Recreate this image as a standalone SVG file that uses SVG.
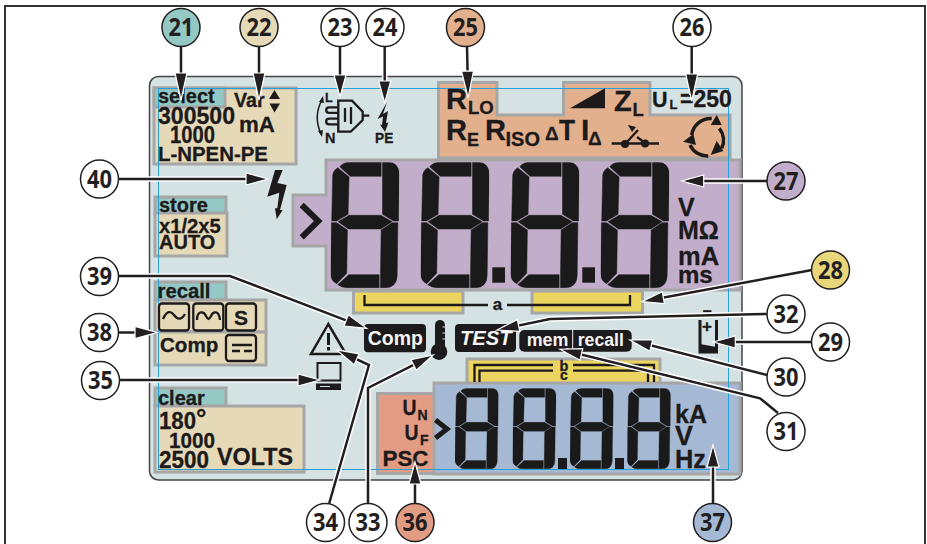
<svg xmlns="http://www.w3.org/2000/svg" width="927" height="544" viewBox="0 0 927 544">
<style>
text{font-family:"Liberation Sans",Arial,sans-serif;font-weight:700;fill:#1c1a1a;stroke:#1c1a1a;stroke-width:.3}
text.lbl{font-family:"Open Sans","Liberation Sans",sans-serif;font-size:25px;text-anchor:middle;fill:#231f20;stroke:none}
text.wt{fill:#f4f4f4;stroke:none}
.c{stroke:#231f20;stroke-width:1.5;fill:#fff}
.reg{stroke:#a6a6a6;stroke-width:3;stroke-linejoin:miter}
.tl{fill:#94c8c4}.tn{fill:#e6d9b8}.pe{fill:#e3b08e}.pu{fill:#c2aecb}.ye{fill:#ebd55f}.bl{fill:#a5b8d4}.sa{fill:#e29c83}
.halo{fill:none;stroke:#fff;stroke-width:5.5}
.ln{fill:none;stroke:#231f20;stroke-width:2.5;stroke-linejoin:miter}
.k{fill:none;stroke:#1c1a1a;stroke-width:2.3}
.blk{fill:#1c1a1a}
</style>
<defs>
<marker id="h" viewBox="0 0 22 12" refX="16" refY="6" markerWidth="22" markerHeight="12" markerUnits="userSpaceOnUse" orient="auto" overflow="visible"><path d="M0,0L22,6L0,12Z" fill="#231f20" stroke="#fff" stroke-width="1.2"/></marker>
<marker id="hl" viewBox="0 0 27 12" refX="21" refY="6" markerWidth="27" markerHeight="12" markerUnits="userSpaceOnUse" orient="auto" overflow="visible"><path d="M0,0L27,6L0,12Z" fill="#231f20" stroke="#fff" stroke-width="1.2"/></marker>
<symbol id="dig" viewBox="122 37 205 378" preserveAspectRatio="none">
<path fill="#1a1a1a" stroke="#1a1a1a" stroke-width="1.5" d="M149,50Q160,37 180,37H273V79H180ZM277,37H292Q327,37 327,75L325,213H310L277,193ZM143,53L177,81L174,193L140,213H125L128,75Q130,61 143,53ZM144,215L177,196H272L306,215L272,237H175ZM124,218H140L172,240L170,370L140,401Q122,393 122,370ZM143,404L176,374H267V413H170Q155,413 143,404ZM271,413V374L273,240L306,218H323L321,375Q320,413 285,413Z"/>
</symbol>
</defs>
<path d="M5,544V6H925V544" fill="none" stroke="#333" stroke-width="2"/>
<rect id="panel" x="149.5" y="76.5" width="592.5" height="403.5" rx="9" fill="#d5e2e4" stroke="#444" stroke-width="1.5"/>

<g id="region-select">
<rect class="reg tn" x="154" y="88" width="142" height="76"/>
<rect class="reg tl" x="154" y="88" width="71" height="19"/>
</g>
<g id="region-store">
<rect class="reg tl" x="155" y="197" width="71" height="17"/>
<rect class="reg tn" x="155" y="213" width="72" height="43"/>
</g>
<g id="region-recall">
<rect class="reg tl" x="155" y="282" width="71" height="18"/>
<rect class="reg tn" x="155" y="300" width="111" height="32"/>
<rect class="reg tn" x="155" y="332" width="111" height="33"/>
</g>
<g id="region-clear">
<rect class="reg tl" x="155" y="388" width="71" height="18"/>
<rect class="reg tn" x="155" y="406" width="149" height="66"/>
</g>
<g id="region-orange"><path class="reg pe" d="M438.5,82.5H497V115H563.5V82.5H650V115H730V158H438.5Z"/></g>
<g id="region-main"><path class="reg pu" d="M326,160H740V290H326V246H293V195H326Z"/></g>
<g id="region-yellow">
<rect class="reg ye" x="353.5" y="291" width="109.5" height="22"/>
<rect class="reg ye" x="532" y="291" width="110.5" height="22"/>
<rect class="reg ye" x="467" y="359" width="193" height="30"/>
</g>
<g id="region-low">
<rect class="reg sa" x="377.5" y="393.5" width="60" height="80"/>
<rect class="reg bl" x="434" y="383" width="306" height="91"/>
</g>
<rect id="guide" x="158.5" y="88.5" width="570" height="381" fill="none" stroke="#2a9fd6" stroke-width="1"/>

<g id="n21-text">
<text x="158" y="103" font-size="20">select</text>
<text x="158" y="124" font-size="23" textLength="77" lengthAdjust="spacingAndGlyphs">300500</text>
<text x="170" y="143" font-size="23" textLength="45" lengthAdjust="spacingAndGlyphs">1000</text>
<text x="158" y="160.5" font-size="20.4">L-NPEN-PE</text>
</g>
<g id="n22-text">
<text x="234" y="107" font-size="19.6">Var</text>
<text x="239" y="132" font-size="22.3">mA</text>
<path class="blk" d="M274.5,90L269,99H280ZM269.5,103.5H280L274.5,112.5Z"/>
</g>
<g id="n23-plug">
<path class="k" d="M338.3,100.7H352L362.7,111.7V120L350.7,131.7H338.3Z"/>
<path class="k" d="M362.7,115.7H369.3M345,108V122M351,107V124"/>
<path class="k" d="M338,107.3H329a2.8,2.8 0 0 0 0,5.6H338M338,118.7H329a2.8,2.8 0 0 0 0,5.6H338"/>
<path d="M322,100Q313,116 321,134" fill="none" stroke="#1c1a1a" stroke-width="1.5"/>
<path class="blk" d="M323,96L319,102L324,103ZM322,137L318,131L323,130Z"/>
<text x="325" y="102" font-size="12.5">L</text>
<text x="325" y="143" font-size="14.5">N</text>
</g>
<g id="n24-pe">
<path class="blk" d="M387,102L377.5,119L383,116.5L382,125L380,124.5L385,132L388.5,122.5L386,123L388,111L383,114Z"/>
<text x="375" y="143" font-size="15" textLength="18.3" lengthAdjust="spacingAndGlyphs">PE</text>
</g>
<g id="n25-text">
<text x="446" y="108.5" font-size="30" textLength="21" lengthAdjust="spacingAndGlyphs">R</text><text x="468" y="114" font-size="18.5">LO</text>
<text x="446" y="140" font-size="30" textLength="21" lengthAdjust="spacingAndGlyphs">R</text><text x="467" y="146" font-size="18">E</text>
<text x="485" y="140" font-size="30" textLength="21" lengthAdjust="spacingAndGlyphs">R</text><text x="505.5" y="146" font-size="20">ISO</text>
<text x="545" y="139.5" font-size="19">Δ</text><text x="559" y="140" font-size="30" textLength="16" lengthAdjust="spacingAndGlyphs">T</text>
<text x="581" y="139.5" font-size="30">I</text><text x="588" y="145" font-size="19">Δ</text>
<path class="blk" d="M570,108.3L605,88.3V108.3Z"/>
<text x="614" y="110.7" font-size="29">Z</text><text x="632.5" y="115.7" font-size="18.5">L</text>
<path class="k" d="M611.7,143.5H659M626,143L638,130M637,137L645,143"/>
<circle class="blk" cx="625" cy="144" r="4"/><circle class="blk" cx="645" cy="143.5" r="4"/>
<path class="blk" d="M628,125L636,127L632,132Z"/>
<path d="M691.7,135A19,19 0 0 1 711.7,118.5M719.3,128.3A19,19 0 0 1 721.7,148.3M708.3,156A19,19 0 0 1 690,145" fill="none" stroke="#1c1a1a" stroke-width="3.5"/>
<path class="blk" d="M716.7,115L721.7,125L710.7,125ZM683,141.7L693.3,134L696,145ZM710.7,155L723.3,151L716.7,140.7Z"/>
</g>
<g id="n26-text">
<text x="652" y="106.7" font-size="21.5">U</text><text x="669.5" y="109" font-size="13">L</text>
<text x="680" y="106.7" font-size="23">=250</text>
</g>
<g id="n27-digits">
<path d="M301.7,205L318.3,221L301.7,237.3" fill="none" stroke="#1c1a1a" stroke-width="6"/>
<use href="#dig" x="330.7" y="162.3" width="68.5" height="126"/>
<use href="#dig" x="420.7" y="162.3" width="68.5" height="126"/>
<use href="#dig" x="510.7" y="162.3" width="68.5" height="126"/>
<use href="#dig" x="600.7" y="162.3" width="68.5" height="126"/>
<rect class="blk" x="492.3" y="267.3" width="12.7" height="15.4"/>
<rect class="blk" x="582.3" y="267.3" width="12.7" height="15.4"/>
<text x="678" y="216" font-size="25">V</text>
<text x="678" y="238.5" font-size="25">MΩ</text>
<text x="678" y="265" font-size="25.5">mA</text>
<text x="678" y="283" font-size="24">ms</text>
</g>
<g id="n28-brackets">
<path class="k" d="M364.5,295V305H488M507,305H630V295"/>
<text x="497.5" y="310" font-size="17" text-anchor="middle">a</text>
<path class="k" d="M474.5,382V365H553M573,365H654V382M479.5,382V370.7H553M573,370.7H648V382"/>
<text x="564" y="370.5" font-size="14.5" text-anchor="middle">b</text>
<text x="564" y="379.5" font-size="14" text-anchor="middle">c</text>
</g>
<g id="n29-battery">
<text x="702.7" y="316" font-size="16">–</text>
<text x="702" y="332" font-size="17">+</text>
<path d="M700,320V352H716.5V320" fill="none" stroke="#1c1a1a" stroke-width="3"/>
<path class="blk" d="M700,344L716.5,347V353H700Z"/>
</g>
<g id="n32-test">
<rect class="blk" x="455" y="324" width="61" height="28" rx="4"/>
<text class="wt" x="460" y="345" font-size="20.2" font-style="italic">TEST</text>
</g>
<g id="n30-31-mem">
<rect class="blk" x="519.3" y="330" width="112.4" height="21.7" rx="5"/>
<path d="M572.7,330V351.7" stroke="#f4f4f4"/>
<text class="wt" x="526.7" y="345.7" font-size="17.9">mem</text>
<text class="wt" x="577.7" y="345.7" font-size="17.7">recall</text>
</g>
<g id="n33-thermo">
<rect class="blk" x="435" y="320" width="10" height="32" rx="5"/>
<circle class="blk" cx="439" cy="351.7" r="8.3"/>
<path d="M442.5,327H445.5M442.5,333H445.5M442.5,339H445.5" stroke="#d5e2e4"/>
</g>
<g id="n34-warning">
<path d="M328.3,324L311,354H346Z" fill="none" stroke="#1c1a1a" stroke-width="2.5"/>
<rect class="blk" x="327" y="333" width="3" height="12"/><rect class="blk" x="327" y="347" width="3" height="3.5"/>
</g>
<g id="n35-computer">
<rect x="317.5" y="363" width="23" height="17.5" fill="none" stroke="#1c1a1a" stroke-width="2"/>
<rect class="blk" x="316" y="383.5" width="25" height="6.5"/>
<path d="M320,386.5H330" stroke="#d5e2e4"/>
</g>
<g id="n36-text">
<text x="402.5" y="415" font-size="21.5" textLength="14" lengthAdjust="spacingAndGlyphs">U</text><text x="417.5" y="420" font-size="14">N</text>
<text x="404.5" y="439.5" font-size="21.5" textLength="14" lengthAdjust="spacingAndGlyphs">U</text><text x="420" y="445" font-size="14">F</text>
<text x="382.5" y="465.7" font-size="22.4">PSC</text>
</g>
<g id="n37-digits">
<path d="M435.5,420L447,429L435.5,438" fill="none" stroke="#1c1a1a" stroke-width="5"/>
<use href="#dig" x="455" y="388.3" width="43.5" height="81"/>
<use href="#dig" x="512.6" y="388.3" width="43.5" height="81"/>
<use href="#dig" x="570" y="388.3" width="43.5" height="81"/>
<use href="#dig" x="627.2" y="388.3" width="43.5" height="81"/>
<rect class="blk" x="558" y="458" width="9" height="11"/>
<rect class="blk" x="615" y="458" width="9" height="11"/>
<text x="675" y="423.3" font-size="25">kA</text>
<text x="675" y="445" font-size="27">V</text>
<text x="675" y="467.7" font-size="25.4">Hz</text>
</g>
<g id="n38-recall">
<text x="157.5" y="298" font-size="20.3">recall</text>
<rect class="k" x="159" y="303.5" width="30" height="27" rx="3"/>
<rect class="k" x="193.3" y="303.5" width="30" height="27" rx="3"/>
<rect class="k" x="226" y="303.5" width="30" height="27" rx="3"/>
<path class="k" d="M163,319C167,310 171,311 174,315S181,321 185,314"/>
<path class="k" d="M197,320C197,310 204,311 206,316C208,320 209,320 211,316C213,311 219,310 220,320"/>
<text x="241" y="325" font-size="21" text-anchor="middle">S</text>
<text x="160" y="351.5" font-size="20.6">Comp</text>
<rect class="k" x="226" y="335" width="30" height="26" rx="3"/>
<path d="M232,345H252M232,351H240M244,351H252" fill="none" stroke="#1c1a1a" stroke-width="2.5"/>
</g>
<g id="n39-comp">
<rect class="blk" x="364" y="324" width="62" height="28.3" rx="4"/>
<text class="wt" x="367.7" y="345" font-size="19.5">Comp</text>
</g>
<g id="n40-bolt">
<path class="blk" d="M275,170H282.7L277.3,183L286.7,185L280,210H282.7L276.7,219.3L275,208.3H277.3L279.3,192.7L267.3,196.7Z"/>
</g>
<g id="store-text">
<text x="159" y="211.5" font-size="20">store</text>
<text x="159" y="232.7" font-size="20.2">x1/2x5</text>
<text x="159" y="249.3" font-size="20">AUTO</text>
</g>
<g id="clear-text">
<text x="158" y="405" font-size="20">clear</text>
<text x="159" y="429.3" font-size="24.5" textLength="37" lengthAdjust="spacingAndGlyphs">180</text>
<text x="196" y="427" font-size="26">°</text>
<text x="169" y="448.3" font-size="22" textLength="46" lengthAdjust="spacingAndGlyphs">1000</text>
<text x="159" y="468.3" font-size="23.5" textLength="50" lengthAdjust="spacingAndGlyphs">2500</text>
<text x="217" y="465" font-size="23.3">VOLTS</text>
</g>

<g id="connectors">
<path class="halo" d="M181,46V94M259,46V94M340,46V91M384.7,46V97M467,46L468,92M691.7,46V95M767,181H687.7M812,270L647.6,300.6M767,314L550,319L502.9,328.8M811,342H719.3M767,375L635.8,341.5M778,413L760,398.3L565.8,350.7M713,504V451M415,504V468M368,504V388L427.9,357.7M329,504L369,365L342.1,352.5M119,380H314M118,332.5H151M118,276H230L361.1,326.2M118,179H262"/>
<path class="ln" d="M181,46V94" marker-end="url(#hl)"/>
<path class="ln" d="M259,46V94" marker-end="url(#hl)"/>
<path class="ln" d="M340,46V91" marker-end="url(#h)"/>
<path class="ln" d="M384.7,46V97" marker-end="url(#h)"/>
<path class="ln" d="M467,46L468,92" marker-end="url(#hl)"/>
<path class="ln" d="M691.7,46V95" marker-end="url(#hl)"/>
<path class="ln" d="M767,181H687.7" marker-end="url(#h)"/>
<path class="ln" d="M812,270L647.6,300.6" marker-end="url(#h)"/>
<path class="ln" d="M767,314L550,319L502.9,328.8" marker-end="url(#h)"/>
<path class="ln" d="M811,342H719.3" marker-end="url(#h)"/>
<path class="ln" d="M767,375L635.8,341.5" marker-end="url(#h)"/>
<path class="ln" d="M778,413L760,398.3L565.8,350.7" marker-end="url(#h)"/>
<path class="ln" d="M713,504V451" marker-end="url(#h)"/>
<path class="ln" d="M415,504V468" marker-end="url(#h)"/>
<path class="ln" d="M368,504V388L427.9,357.7" marker-end="url(#h)"/>
<path class="ln" d="M329,504L369,365L342.1,352.5" marker-end="url(#h)"/>
<path class="ln" d="M119,380H314" marker-end="url(#h)"/>
<path class="ln" d="M118,332.5H151" marker-end="url(#h)"/>
<path class="ln" d="M118,276H230L361.1,326.2" marker-end="url(#h)"/>
<path class="ln" d="M118,179H262" marker-end="url(#h)"/>
</g>

<g id="n21"><circle class="c tl" cx="181" cy="27.5" r="19"/><text class="lbl" x="181" y="36.3" textLength="25" lengthAdjust="spacingAndGlyphs">21</text></g>
<g id="n22"><circle class="c tn" cx="259" cy="27.5" r="19"/><text class="lbl" x="259" y="36.3" textLength="25" lengthAdjust="spacingAndGlyphs">22</text></g>
<g id="n23"><circle class="c" cx="340" cy="27.5" r="19"/><text class="lbl" x="340" y="36.3" textLength="25" lengthAdjust="spacingAndGlyphs">23</text></g>
<g id="n24"><circle class="c" cx="385" cy="27.5" r="19"/><text class="lbl" x="385" y="36.3" textLength="25" lengthAdjust="spacingAndGlyphs">24</text></g>
<g id="n25"><circle class="c pe" cx="465.5" cy="27.5" r="19"/><text class="lbl" x="465.5" y="36.3" textLength="25" lengthAdjust="spacingAndGlyphs">25</text></g>
<g id="n26"><circle class="c" cx="692" cy="27.5" r="19"/><text class="lbl" x="692" y="36.3" textLength="25" lengthAdjust="spacingAndGlyphs">26</text></g>
<g id="n27"><circle class="c pu" cx="786" cy="181" r="19"/><text class="lbl" x="786" y="189.8" textLength="25" lengthAdjust="spacingAndGlyphs">27</text></g>
<g id="n28"><circle class="c" style="fill:#e8d67a" cx="830.5" cy="270" r="19"/><text class="lbl" x="830.5" y="278.8" textLength="25" lengthAdjust="spacingAndGlyphs">28</text></g>
<g id="n32"><circle class="c" cx="786" cy="314" r="19"/><text class="lbl" x="786" y="322.8" textLength="25" lengthAdjust="spacingAndGlyphs">32</text></g>
<g id="n29"><circle class="c" cx="830.5" cy="342" r="19"/><text class="lbl" x="830.5" y="350.8" textLength="25" lengthAdjust="spacingAndGlyphs">29</text></g>
<g id="n30"><circle class="c" cx="786" cy="377" r="19"/><text class="lbl" x="786" y="385.8" textLength="25" lengthAdjust="spacingAndGlyphs">30</text></g>
<g id="n31"><circle class="c" cx="786" cy="431.5" r="19"/><text class="lbl" x="786" y="440.3" textLength="25" lengthAdjust="spacingAndGlyphs">31</text></g>
<g id="n40"><circle class="c" cx="99.5" cy="179" r="19"/><text class="lbl" x="99.5" y="187.8" textLength="25" lengthAdjust="spacingAndGlyphs">40</text></g>
<g id="n39"><circle class="c" cx="99.5" cy="276.5" r="19"/><text class="lbl" x="99.5" y="285.3" textLength="25" lengthAdjust="spacingAndGlyphs">39</text></g>
<g id="n38"><circle class="c" cx="99.5" cy="332.5" r="19"/><text class="lbl" x="99.5" y="341.3" textLength="25" lengthAdjust="spacingAndGlyphs">38</text></g>
<g id="n35"><circle class="c" cx="100.5" cy="380.5" r="19"/><text class="lbl" x="100.5" y="389.3" textLength="25" lengthAdjust="spacingAndGlyphs">35</text></g>
<g id="n34"><circle class="c" cx="325.5" cy="522.5" r="19"/><text class="lbl" x="325.5" y="531.3" textLength="25" lengthAdjust="spacingAndGlyphs">34</text></g>
<g id="n33"><circle class="c" cx="368" cy="522.5" r="19"/><text class="lbl" x="368" y="531.3" textLength="25" lengthAdjust="spacingAndGlyphs">33</text></g>
<g id="n36"><circle class="c sa" cx="415" cy="522.5" r="19"/><text class="lbl" x="415" y="531.3" textLength="25" lengthAdjust="spacingAndGlyphs">36</text></g>
<g id="n37"><circle class="c bl" cx="712.5" cy="522.5" r="19"/><text class="lbl" x="712.5" y="531.3" textLength="25" lengthAdjust="spacingAndGlyphs">37</text></g>
</svg>
